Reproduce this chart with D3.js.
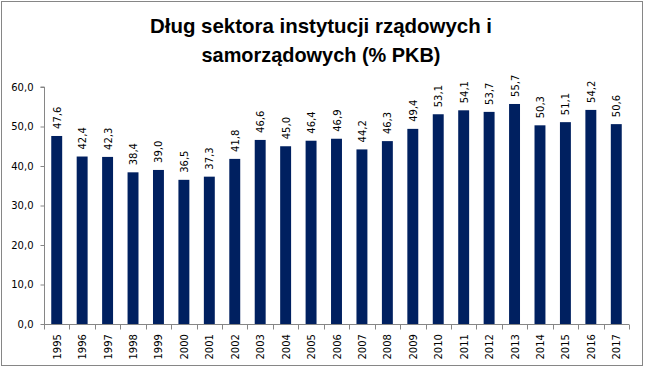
<!DOCTYPE html>
<html lang="pl">
<head>
<meta charset="UTF-8">
<script src="https://d3js.org/d3.v7.min.js"></script>
<style>
  body { margin: 0; background: #fff; }
  svg { display: block; }
  .title { font-family: "Liberation Sans", Arial, sans-serif; font-weight: bold; font-size: 21px; fill: #000; }
  .tick text, .val { font-family: "DejaVu Sans", Verdana, sans-serif; font-size: 10px; fill: #000; }
</style>
</head>
<body>
<svg width="645" height="370"></svg>
<script>
const years = ["1995","1996","1997","1998","1999","2000","2001","2002","2003","2004","2005","2006",
  "2007","2008","2009","2010","2011","2012","2013","2014","2015","2016","2017"];
const debt = [47.6, 42.4, 42.3, 38.4, 39.0, 36.5, 37.3, 41.8, 46.6, 45.0, 46.4, 46.9,
  44.2, 46.3, 49.4, 53.1, 54.1, 53.7, 55.7, 50.3, 51.1, 54.2, 50.6];
const yTicks = [0, 10, 20, 30, 40, 50, 60];
const titleLines = ["Dług sektora instytucji rządowych i", "samorządowych (% PKB)"];
const titleWidths = [342, 239];

const svg = d3.select("svg");
const fmt = v => v.toFixed(1).replace(".", ",");

// outer frame
svg.append("rect")
  .attr("x", 1.5).attr("y", 1.5)
  .attr("width", 641).attr("height", 364)
  .attr("fill", "#fff").attr("stroke", "#868686").attr("stroke-width", 1);

// title
svg.selectAll("text.title")
  .data(titleLines)
  .enter().append("text")
  .attr("class", "title")
  .attr("x", 321)
  .attr("y", (d, i) => 33 + i * 29)
  .attr("text-anchor", "middle")
  .attr("textLength", (d, i) => titleWidths[i])
  .attr("lengthAdjust", "spacingAndGlyphs")
  .text(d => d);

const x = d3.scaleBand().domain(years).range([44, 629]).paddingInner(0.57).paddingOuter(0.285);
const y = d3.scaleLinear().domain([0, 60]).range([324, 87]);

// y axis
const yAxis = svg.append("g")
  .attr("transform", "translate(44.5,0)")
  .call(d3.axisLeft(y).tickValues(yTicks).tickFormat(fmt).tickSize(4).tickPadding(7));
yAxis.selectAll("line, path").attr("stroke", "#868686");
yAxis.select(".domain").attr("d", `M-4,${y(60)}H0V${y(0)}`);

// x axis with ticks at band edges
const xg = svg.append("g").attr("transform", `translate(0,${y(0) + 0.5})`);
xg.append("line")
  .attr("x1", 44).attr("x2", 629).attr("stroke", "#868686");
const step = x.step();
const edges = d3.range(years.length + 1).map(i => 44 + i * step);
xg.selectAll("line.edge")
  .data(edges)
  .enter().append("line")
  .attr("class", "edge")
  .attr("x1", d => Math.round(d) + 0.5).attr("x2", d => Math.round(d) + 0.5)
  .attr("y1", 0).attr("y2", 5)
  .attr("stroke", "#868686");
xg.selectAll("text.year")
  .data(years)
  .enter().append("text")
  .attr("class", "val")
  .attr("transform", d => `translate(${x(d) + x.bandwidth() / 2 + 4},${35}) rotate(-90)`)
  .attr("text-anchor", "start")
  .text(d => d);

// bars
svg.append("g")
  .selectAll("rect")
  .data(years)
  .enter().append("rect")
  .attr("x", d => x(d))
  .attr("width", x.bandwidth())
  .attr("y", (d, i) => y(debt[i]))
  .attr("height", (d, i) => y(0) - y(debt[i]))
  .attr("fill", "#002060");

// value labels
svg.append("g")
  .selectAll("text")
  .data(years)
  .enter().append("text")
  .attr("class", "val")
  .attr("transform", (d, i) => `translate(${x(d) + x.bandwidth() / 2 + 4},${y(debt[i]) - 7}) rotate(-90)`)
  .attr("text-anchor", "start")
  .text((d, i) => fmt(debt[i]));
</script>
</body>
</html>
